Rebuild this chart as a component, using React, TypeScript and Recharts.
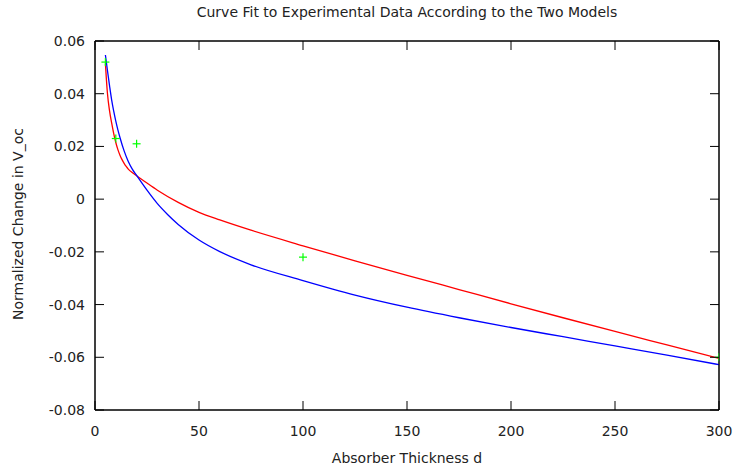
import React from "react";
import { ComposedChart, Line, Scatter, XAxis, YAxis, ReferenceArea } from "recharts";

const xTicks = [0, 50, 100, 150, 200, 250, 300];
const yTicks = [-0.08, -0.06, -0.04, -0.02, 0, 0.02, 0.04, 0.06];
const xDomain = [0, 300];
const yDomain = [-0.08, 0.06];

const experimental = [
  { d: 5, v: 0.052 },
  { d: 10, v: 0.023 },
  { d: 20, v: 0.021 },
  { d: 100, v: -0.022 },
  { d: 300, v: -0.06 },
];

const modelRed = [
  { d: 5, v: 0.0515 },
  { d: 5.5, v: 0.0452 },
  { d: 6, v: 0.04 },
  { d: 7, v: 0.0335 },
  { d: 8, v: 0.0289 },
  { d: 9, v: 0.0249 },
  { d: 10, v: 0.0215 },
  { d: 11, v: 0.0188 },
  { d: 12, v: 0.0167 },
  { d: 13, v: 0.015 },
  { d: 14, v: 0.0136 },
  { d: 15, v: 0.0124 },
  { d: 16, v: 0.0114 },
  { d: 18, v: 0.01 },
  { d: 20, v: 0.0089 },
  { d: 25, v: 0.0061 },
  { d: 30, v: 0.0034 },
  { d: 40, v: -0.0012 },
  { d: 50, v: -0.005 },
  { d: 60, v: -0.0079 },
  { d: 75, v: -0.0118 },
  { d: 100, v: -0.0177 },
  { d: 125, v: -0.0234 },
  { d: 150, v: -0.0289 },
  { d: 175, v: -0.0343 },
  { d: 200, v: -0.0397 },
  { d: 225, v: -0.045 },
  { d: 250, v: -0.0502 },
  { d: 275, v: -0.0553 },
  { d: 300, v: -0.0604 },
];

const modelBlue = [
  { d: 5, v: 0.0547 },
  { d: 6, v: 0.0487 },
  { d: 7, v: 0.043 },
  { d: 8, v: 0.0377 },
  { d: 9, v: 0.0334 },
  { d: 10, v: 0.0296 },
  { d: 11, v: 0.0263 },
  { d: 12, v: 0.0234 },
  { d: 14, v: 0.0183 },
  { d: 16, v: 0.0143 },
  { d: 18, v: 0.0113 },
  { d: 20, v: 0.009 },
  { d: 25, v: 0.0034 },
  { d: 30, v: -0.0017 },
  { d: 35, v: -0.0059 },
  { d: 40, v: -0.0096 },
  { d: 50, v: -0.0155 },
  { d: 60, v: -0.0199 },
  { d: 75, v: -0.0249 },
  { d: 100, v: -0.0309 },
  { d: 125, v: -0.0364 },
  { d: 150, v: -0.041 },
  { d: 175, v: -0.045 },
  { d: 200, v: -0.0487 },
  { d: 225, v: -0.0522 },
  { d: 250, v: -0.0557 },
  { d: 275, v: -0.0592 },
  { d: 300, v: -0.0628 },
];

const FONT = "'DejaVu Sans', sans-serif";
const TICK_LEN = 9;

const BottomTick = (props: any) => {
  const { x, y, payload } = props;
  return (
    <g>
      <line x1={x} x2={x} y1={y} y2={y - TICK_LEN} stroke="#000" strokeWidth={1} />
      <text x={x} y={y + 26} textAnchor="middle" fontFamily={FONT} fontSize={14} fill="#222">
        {String(payload.value)}
      </text>
    </g>
  );
};

const TopTick = (props: any) => {
  const { x, y } = props;
  return <line x1={x} x2={x} y1={y} y2={y + TICK_LEN} stroke="#000" strokeWidth={1} />;
};

const LeftTick = (props: any) => {
  const { x, y, payload } = props;
  return (
    <g>
      <line x1={x} x2={x + TICK_LEN} y1={y} y2={y} stroke="#000" strokeWidth={1} />
      <text x={x - 10} y={y + 5} textAnchor="end" fontFamily={FONT} fontSize={14} fill="#222">
        {String(payload.value)}
      </text>
    </g>
  );
};

const RightTick = (props: any) => {
  const { x, y } = props;
  return <line x1={x} x2={x - TICK_LEN} y1={y} y2={y} stroke="#000" strokeWidth={1} />;
};

const PlusShape = (props: any) => {
  const { cx, cy } = props;
  if (cx == null || cy == null) return null;
  return (
    <g>
      <line x1={cx - 4} x2={cx + 4} y1={cy} y2={cy} stroke="#00ff00" strokeWidth={1.2} />
      <line x1={cx} x2={cx} y1={cy - 4} y2={cy + 4} stroke="#00ff00" strokeWidth={1.2} />
    </g>
  );
};

export default function App() {
  return (
    <div style={{ position: "absolute", left: 0, top: 0, width: 737, height: 474, background: "#fff", fontFamily: FONT }}>
      <div
        style={{
          position: "absolute",
          left: 107,
          width: 600,
          top: 3,
          textAlign: "center",
          fontSize: 14,
          color: "#222",
          lineHeight: "18px",
        }}
      >
        Curve Fit to Experimental Data According to the Two Models
      </div>
      <div
        style={{
          position: "absolute",
          left: 18 - 150,
          top: 224 - 10,
          width: 300,
          height: 20,
          lineHeight: "20px",
          textAlign: "center",
          fontSize: 14,
          color: "#222",
          transform: "rotate(-90deg)",
        }}
      >
        Normalized Change in V_oc
      </div>
      <div
        style={{
          position: "absolute",
          left: 257,
          width: 300,
          top: 448,
          lineHeight: "20px",
          textAlign: "center",
          fontSize: 14,
          color: "#222",
        }}
      >
        Absorber Thickness d
      </div>
      <ComposedChart
        width={737}
        height={474}
        margin={{ top: 40, right: 17, bottom: 0, left: 0 }}
        style={{ position: "absolute", left: 0, top: 0 }}
      >
        <XAxis
          xAxisId="bottom"
          dataKey="d"
          type="number"
          domain={xDomain}
          ticks={xTicks}
          orientation="bottom"
          height={64}
          tickSize={0}
          tickMargin={0}
          tickLine={false}
          axisLine={{ stroke: "#000" }}
          tick={<BottomTick />}
          interval={0}
          allowDataOverflow
        />
        <XAxis
          xAxisId="top"
          dataKey="d"
          type="number"
          domain={xDomain}
          ticks={xTicks}
          orientation="top"
          height={1}
          tickSize={0}
          tickMargin={0}
          tickLine={false}
          axisLine={{ stroke: "#000" }}
          tick={<TopTick />}
          interval={0}
          allowDataOverflow
        />
        <YAxis
          yAxisId="left"
          dataKey="v"
          type="number"
          domain={yDomain}
          ticks={yTicks}
          orientation="left"
          width={95}
          tickSize={0}
          tickMargin={0}
          tickLine={false}
          axisLine={{ stroke: "#000" }}
          tick={<LeftTick />}
          interval={0}
          allowDataOverflow
        />
        <YAxis
          yAxisId="right"
          dataKey="v"
          type="number"
          domain={yDomain}
          ticks={yTicks}
          orientation="right"
          width={1}
          tickSize={0}
          tickMargin={0}
          tickLine={false}
          axisLine={{ stroke: "#000" }}
          tick={<RightTick />}
          interval={0}
          allowDataOverflow
        />
        <ReferenceArea
          xAxisId="bottom"
          yAxisId="left"
          x1={xDomain[0]}
          x2={xDomain[1]}
          y1={yDomain[0]}
          y2={yDomain[1]}
          fill="none"
          fillOpacity={0}
          stroke="#000"
          strokeWidth={1}
          ifOverflow="visible"
        />
        <Line
          xAxisId="bottom"
          yAxisId="left"
          data={modelRed}
          dataKey="v"
          type="monotone"
          stroke="#ff0000"
          strokeWidth={1.3}
          dot={false}
          activeDot={false}
          isAnimationActive={false}
        />
        <Line
          xAxisId="top"
          yAxisId="right"
          data={modelBlue}
          dataKey="v"
          type="monotone"
          stroke="#0000ff"
          strokeWidth={1.3}
          dot={false}
          activeDot={false}
          isAnimationActive={false}
        />
        <Scatter
          xAxisId="bottom"
          yAxisId="left"
          data={experimental}
          dataKey="v"
          shape={<PlusShape />}
          isAnimationActive={false}
        />
      </ComposedChart>
    </div>
  );
}
